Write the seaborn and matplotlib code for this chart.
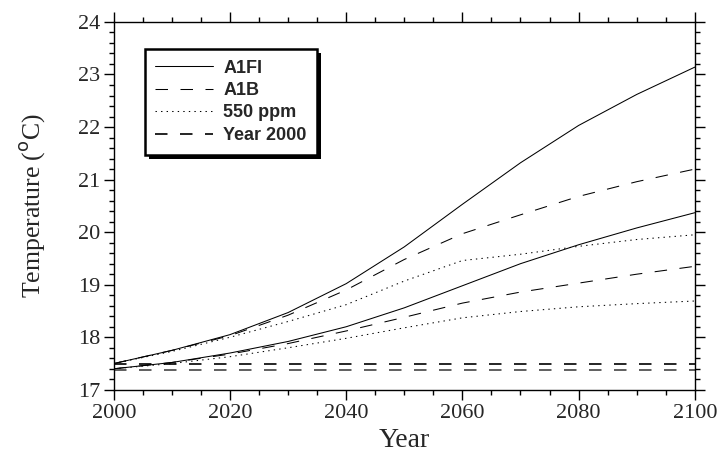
import numpy as np
import pandas as pd
import matplotlib
matplotlib.use("Agg")
import matplotlib.pyplot as plt
import matplotlib.patheffects as pe
from matplotlib.ticker import MultipleLocator
import seaborn as sns

# Values
years = [2000, 2010, 2020, 2030, 2040, 2050, 2060, 2070, 2080, 2090, 2100]

a1fi_high = [17.50, 17.75, 18.05, 18.47, 19.02, 19.72, 20.53, 21.32, 22.03, 22.62, 23.14]
a1b_high = [17.50, 17.75, 18.03, 18.42, 18.90, 19.48, 19.97, 20.33, 20.68, 20.96, 21.20]
ppm550_high = [17.50, 17.73, 18.00, 18.30, 18.62, 19.07, 19.46, 19.58, 19.73, 19.86, 19.95]

a1fi_low = [17.40, 17.52, 17.70, 17.92, 18.20, 18.56, 18.98, 19.40, 19.76, 20.08, 20.37]
a1b_low = [17.40, 17.52, 17.68, 17.88, 18.12, 18.38, 18.65, 18.86, 19.03, 19.20, 19.35]
ppm550_low = [17.40, 17.50, 17.63, 17.80, 17.98, 18.18, 18.37, 18.49, 18.58, 18.64, 18.69]

year2000_high = [17.49] * len(years)
year2000_low = [17.38] * len(years)

sns.set_style("ticks")
plt.rcParams["lines.scale_dashes"] = False

fig = plt.figure(figsize=(7.2, 4.57), dpi=100)
ax = fig.add_axes([0.158, 0.147, 0.807, 0.805])

solid = "-"
dashed = (0, (9, 9))
dotted = (0, (1, 3))
lw = 0.75

sns.lineplot(x=years, y=a1fi_high, ax=ax, color="black", lw=lw, linestyle=solid, label="A1FI")
sns.lineplot(x=years, y=a1b_high, ax=ax, color="black", lw=lw, linestyle=dashed, label="A1B")
sns.lineplot(x=years, y=ppm550_high, ax=ax, color="black", lw=lw, linestyle=dotted, label="550 ppm")
sns.lineplot(x=years, y=year2000_high, ax=ax, color="black", lw=1.2, linestyle=dashed, label="Year 2000")

sns.lineplot(x=years, y=a1fi_low, ax=ax, color="black", lw=lw, linestyle=solid)
sns.lineplot(x=years, y=a1b_low, ax=ax, color="black", lw=lw, linestyle=dashed)
sns.lineplot(x=years, y=ppm550_low, ax=ax, color="black", lw=lw, linestyle=dotted)
sns.lineplot(x=years, y=year2000_low, ax=ax, color="#444444", lw=1.2, linestyle=dashed)

ax.set_xlim(2000, 2100)
ax.set_ylim(17, 24)
ax.xaxis.set_major_locator(MultipleLocator(20))
ax.xaxis.set_minor_locator(MultipleLocator(5))
ax.yaxis.set_major_locator(MultipleLocator(1))
ax.yaxis.set_minor_locator(MultipleLocator(0.2))

for side in ["top", "right", "left", "bottom"]:
    ax.spines[side].set_visible(True)
    ax.spines[side].set_linewidth(1.0)
    ax.spines[side].set_color("black")

ax.tick_params(which="both", direction="out", top=True, right=True,
               color="black", width=1.0)
ax.tick_params(which="major", length=7, labelsize=16, pad=3)
ax.tick_params(which="minor", length=3.5)

serif = ["Liberation Serif", "DejaVu Serif"]
for lab in ax.get_xticklabels() + ax.get_yticklabels():
    lab.set_family(serif)

ax.set_xlabel("Year", fontsize=20, family=serif, labelpad=4)
ax.set_ylabel("Temperature ($^{\\rm o}$C)", fontsize=18.5, family=serif, labelpad=22)

leg = ax.legend(loc="upper left", bbox_to_anchor=(0.053, 0.927), borderaxespad=0,
                frameon=True, fancybox=False, framealpha=1, shadow=False,
                handlelength=3.2, handletextpad=0.55, labelspacing=0.3,
                borderpad=0.6,
                prop={"family": "Liberation Sans", "weight": "bold", "size": 13})
frame = leg.get_frame()
frame.set_edgecolor("black")
frame.set_linewidth(1.8)
frame.set_path_effects([pe.SimplePatchShadow(offset=(3, -3), shadow_rgbFace="black", alpha=1),
                        pe.Normal()])

fig.savefig("out.png", dpi=100)
